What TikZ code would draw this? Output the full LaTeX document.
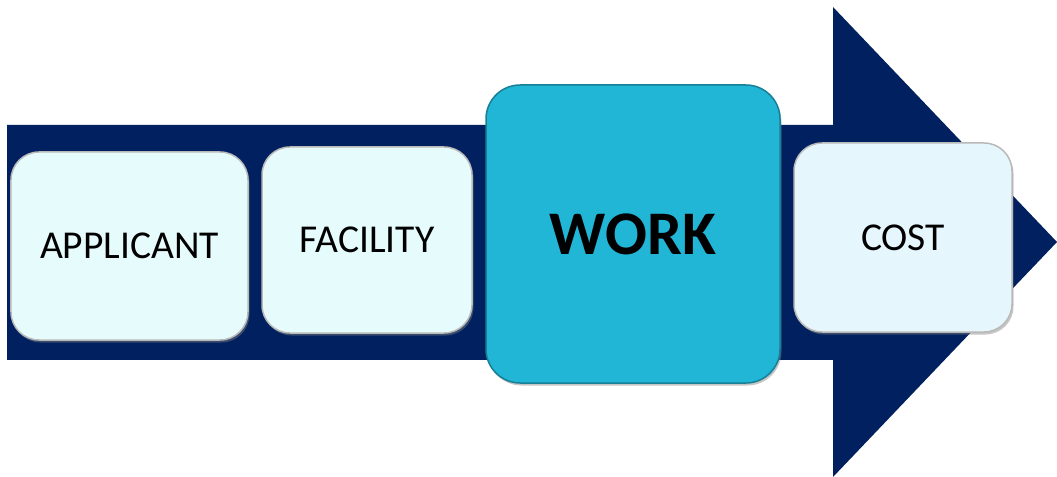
\documentclass[tikz,border=0pt]{standalone}
\usepackage{fontspec}
\setmainfont{Carlito}
\usetikzlibrary{shadows}
\definecolor{navy}{HTML}{002060}
\definecolor{paleA}{HTML}{E6FBFC}
\definecolor{paleC}{HTML}{E6F6FD}
\definecolor{workc}{HTML}{21B5D6}
\tikzset{
  stepbox/.style={draw=gray!55, line width=1.5bp, rounded corners=28bp, fill=paleA,
    drop shadow={shadow xshift=1.5bp, shadow yshift=-2.5bp, opacity=0.45},
    font=\fontsize{39.5bp}{42bp}\selectfont, text=black, inner sep=0pt},
}
\begin{document}
\begin{tikzpicture}[x=1bp,y=-1bp]
\useasboundingbox (0,0) rectangle (1057,477);
\fill[navy] (7,125) -- (833,125) -- (833,7) -- (1057,242) -- (833,477) -- (833,360) -- (7,360) -- cycle;
\node[stepbox, minimum width=237bp, minimum height=188bp] (app) at (129.5,246) {APPLICANT};
\node[stepbox, minimum width=210bp, minimum height=186bp] (fac) at (367,240) {FACILITY};
\node[stepbox, fill=workc, draw=workc!70!black, rounded corners=34bp, minimum width=294bp, minimum height=298bp,
  font=\fontsize{62bp}{64bp}\selectfont\bfseries] (work) at (633,234) {WORK};
\node[stepbox, fill=paleC, minimum width=218bp, minimum height=189bp] (cost) at (903,237.5) {COST};
\end{tikzpicture}
\end{document}
